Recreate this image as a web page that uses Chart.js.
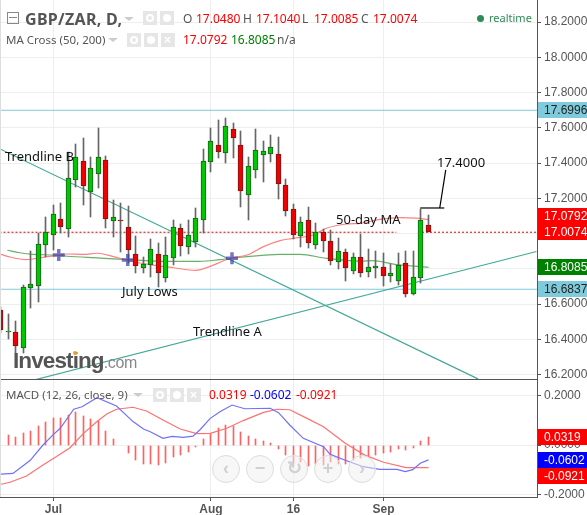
<!DOCTYPE html>
<html>
<head>
<meta charset="utf-8">
<title>GBP/ZAR</title>
<script src="https://cdn.jsdelivr.net/npm/chart.js@4"></script>
<style>
html, body { margin: 0; padding: 0; background: #fff; }
#wrap { position: relative; width: 587px; height: 515px; overflow: hidden; font-family: "Noto Sans", sans-serif; color: #555; }
canvas { position: absolute; left: 0; }
#main { top: 0; }
#macd { top: 380px; }
.t { position: absolute; white-space: nowrap; font-size: 12px; line-height: 16px; }
.r { color: #f00; } .g { color: #008000; } .b { color: #00f; }
.box { position: absolute; width: 14px; height: 14px; background: #e6e6e6; }
.box i { position: absolute; left: 3px; top: 3px; width: 8px; height: 8px; border-radius: 50%; background: #fff; }
.box.eye i { background: none; border: 2px solid #fff; width: 4px; height: 4px; }
.caret { position: absolute; width: 0; height: 0; border-left: 5px solid transparent; border-right: 5px solid transparent; border-top: 4px solid #ccc; }
.btn { position: absolute; top: 455px; width: 26px; height: 26px; border: 1.5px solid #dcdcdc; border-radius: 50%; background: rgba(240,240,240,.5);
  text-align: center; line-height: 24px; font-size: 18px; font-weight: bold; color: #d0d0d0; font-family: "Liberation Sans", sans-serif; }
</style>
</head>
<body>
<div id="wrap">
<canvas id="main" width="587" height="380"></canvas>
<canvas id="macd" width="587" height="135"></canvas>

<div style="position:absolute;left:0;top:379px;width:537px;height:1px;background:#555"></div>
<div style="position:absolute;left:0;top:0;width:1px;height:497px;background:#ddd"></div>
<div style="position:absolute;left:541px;top:498px;width:46px;height:17px;background:#fff"></div>

<div style="position:absolute;left:7px;top:12px;width:10px;height:10px;border:1px solid #888"><div style="margin:4px 1px;height:1px;background:#888"></div></div>
<div class="t" style="left:25px;top:8px;font-size:16px;line-height:22px;font-weight:bold;letter-spacing:.3px">GBP/ZAR, D,</div>
<div class="caret" style="left:124px;top:17px"></div>
<div class="box eye" style="left:143px;top:11px"><i></i></div>
<div class="box" style="left:160px;top:11px"><i></i></div>
<div class="t" style="left:183px;top:11px">O</div><div class="t r" style="left:196px;top:11px">17.0480</div>
<div class="t" style="left:243px;top:11px">H</div><div class="t r" style="left:256px;top:11px">17.1040</div>
<div class="t" style="left:302px;top:11px">L</div><div class="t r" style="left:314px;top:11px">17.0085</div>
<div class="t" style="left:361px;top:11px">C</div><div class="t r" style="left:373px;top:11px">17.0074</div>
<div style="position:absolute;left:477px;top:15px;width:7px;height:7px;border-radius:50%;background:#2e8b57"></div>
<div class="t" style="left:489px;top:10px;color:#2e8b57;font-size:11px">realtime</div>

<div class="t" style="left:6px;top:32px;font-size:11.5px">MA Cross (50, 200)</div>
<div class="caret" style="left:108px;top:38px"></div>
<div class="box eye" style="left:127px;top:33px"><i></i></div>
<div class="box" style="left:144px;top:33px"><i></i></div>
<div class="box" style="left:161px;top:33px"><i style="background:none;color:#fff;font:bold 12px/8px 'Liberation Sans'">×</i></div>
<div class="t r" style="left:183px;top:32px">17.0792</div>
<div class="t g" style="left:231px;top:32px">16.8085</div>
<div class="t" style="left:277px;top:32px">n/a</div>

<div class="t" style="left:6px;top:387px;font-size:11.5px">MACD (12, 26, close, 9)</div>
<div class="caret" style="left:133px;top:393px"></div>
<div class="box eye" style="left:153px;top:388px"><i></i></div>
<div class="box" style="left:170px;top:388px"><i></i></div>
<div class="box" style="left:187px;top:388px"><i style="background:none;color:#fff;font:bold 12px/8px 'Liberation Sans'">×</i></div>
<div class="t r" style="left:209px;top:387px">0.0319</div>
<div class="t b" style="left:250px;top:387px">-0.0602</div>
<div class="t r" style="left:296px;top:387px">-0.0921</div>

<div class="btn" style="left:212px">‹</div>
<div class="btn" style="left:246px">−</div>
<div class="btn" style="left:280px">↻</div>
<div class="btn" style="left:314px">+</div>
<div class="btn" style="left:348px">›</div>

<div class="t" style="left:13px;top:347px;font:bold 22.5px/28px 'Liberation Sans';letter-spacing:-.9px;color:#555">Investing<span style="font-weight:normal;font-size:16px;color:#888;letter-spacing:-.3px">.com</span></div>
<div style="position:absolute;left:73px;top:351px;width:4px;height:4px;background:#f0a030;border-radius:2px"></div>
</div>

<script>
// daily candles
const opens  = [16.566,16.439,16.439,16.348,16.689,16.700,16.933,16.990,17.081,17.024,17.302,17.410,17.234,17.336,17.416,17.069,17.077,17.035,16.882,16.803,16.820,16.886,16.746,16.859,17.030,16.922,16.954,17.075,17.404,17.501,17.455,17.592,17.501,17.217,17.359,17.444,17.450,17.450,17.274,17.137,16.984,17.075,16.933,17.007,16.956,16.837,16.897,16.786,16.865,16.780,16.803,16.812,16.757,16.729,16.831,16.659,16.746,17.048];
const highs  = [16.585,16.543,16.504,16.708,16.901,17.001,17.096,17.162,17.171,17.465,17.508,17.540,17.436,17.597,17.440,17.190,17.171,17.156,16.986,16.865,16.967,16.944,16.978,17.077,17.054,17.077,17.147,17.480,17.601,17.644,17.654,17.626,17.582,17.436,17.593,17.525,17.559,17.548,17.310,17.168,17.092,17.149,17.058,17.026,17.020,16.975,16.913,16.892,16.998,16.911,16.901,16.888,16.827,16.892,16.901,16.901,17.138,17.104];
const lows   = [16.434,16.400,16.320,16.320,16.579,16.613,16.865,16.907,17.005,16.982,17.262,17.160,17.096,17.260,17.033,16.982,16.897,16.831,16.774,16.774,16.751,16.695,16.727,16.821,16.873,16.886,16.926,17.005,17.351,17.431,17.402,17.431,17.153,17.077,17.317,17.294,17.408,17.198,17.101,16.971,16.926,16.916,16.910,16.897,16.821,16.797,16.733,16.771,16.752,16.756,16.746,16.704,16.727,16.708,16.642,16.651,16.718,17.0074];
const closes = [16.453,16.447,16.362,16.695,16.712,16.939,17.009,17.109,17.039,17.313,17.436,17.268,17.370,17.433,17.081,17.092,17.069,16.905,16.814,16.825,16.910,16.778,16.880,17.035,16.927,16.990,17.086,17.410,17.523,17.461,17.609,17.540,17.240,17.381,17.472,17.467,17.489,17.279,17.126,16.990,17.064,16.944,17.009,16.956,16.842,16.899,16.803,16.865,16.774,16.809,16.814,16.757,16.774,16.820,16.659,16.756,17.075,17.0074];

// moving averages, [day index, price]
const ma50Days  = [0,1,3.4,5.6,7,8.8,11,12.8,15,17.6,20.3,23,25.9,28.3,30.5,32.8,35,37.2,39,41.6,43.4,46.1,47.9,50.5,53.2,55.4,57];
const ma50      = [16.882,16.869,16.852,16.865,16.873,16.884,16.882,16.888,16.869,16.840,16.821,16.806,16.791,16.821,16.859,16.878,16.926,16.960,16.973,16.992,17.030,17.054,17.058,17.080,17.090,17.087,17.0792];
const ma200Days = [0.85,2.5,4.3,7,8.8,13.2,17.6,22,26.5,29.2,32.8,37.2,39.9,43.4,47.9,49.6,52.5,57];
const ma200     = [16.905,16.891,16.882,16.878,16.871,16.861,16.850,16.842,16.842,16.852,16.869,16.882,16.882,16.859,16.844,16.846,16.825,16.8085];
const crossDays   = [7.7,16.9,30.8];
const crossPrices = [16.878,16.850,16.860];

// drawn lines
const hLine1 = 17.6996;
const hLine2 = 16.6837;
const lastClose = 17.0074;
const lastCloseDays = [-0.2,52.7,null,55.6,71.6];
const trendADays = [3.87,71.4],  trendA = [16.163,16.898];
const trendBDays = [-0.13,63.6], trendB = [17.480,16.175];
const callDays1 = [55.9,59.1], callPrices1 = [17.145,17.145];
const callDays2 = [58.5,59.3], callPrices2 = [17.145,17.361];

// macd pane
const histogram = [null,.041,.032,.049,.057,.077,.093,.109,.109,.122,.134,.118,.105,.097,.057,.024,null,-.031,-.059,-.076,-.076,-.080,-.073,-.047,-.041,-.028,-.007,.024,.045,.068,.081,.077,.053,.036,.024,.016,.008,-.016,-.041,-.074,-.070,-.084,-.078,-.081,-.070,-.078,-.078,-.061,-.054,-.046,-.041,-.032,-.027,-.016,-.019,-.011,.016,.0319];
const macdDays = [0,1.6,3.9,5.6,7,7.9,9.7,10.8,12.8,15.4,17.6,19,19.9,21.6,22.8,24.3,25.6,26.5,27.9,29.2,30.8,32.5,35.9,37,38.5,40.3,43,43.9,45.9,48.3,50.5,52.8,53.9,54.9,55.9,57];
const macdLine = [-.118,-.115,-.062,0,.043,.068,.145,.155,.192,.158,.095,.065,.054,.027,.035,.031,.036,.061,.108,.135,.162,.147,.149,.131,.081,.027,-.007,-.038,-.062,-.088,-.099,-.099,-.108,-.100,-.074,-.0602];
const signalDays = [0,1.2,3.4,5.6,7.4,9.2,11,12.8,14.1,15.4,17.6,19.4,21.6,23.9,26.1,27.9,30.1,32.3,35,36.8,38.5,40.8,43,45.9,48.5,51,54,57];
const signalLine = [-.159,-.151,-.126,-.081,-.047,-.011,.047,.095,.126,.145,.153,.138,.101,.065,.046,.047,.068,.099,.132,.145,.143,.108,.074,.007,-.041,-.070,-.092,-.0921];

// axes
const priceTicks = [16.2,16.4,16.6,16.8,17.0,17.2,17.4,17.6,17.8,18.0,18.2];
const macdTicks  = [-0.2,0,0.2];
const dateDays   = [7,28,39,51];
const dateLabels = ['Jul','Aug','16','Sep'];

// chart annotations: text, day index, price
const noteTexts  = ['Trendline B','July Lows','Trendline A','50-day MA','17.4000'];
const noteDays   = [0.53,16.13,25.6,44.67,58.13];
const notePrices = [17.434,16.668,16.441,17.077,17.400];

// value tags on the right axis
const mainTags = [[17.6996,'#7fcbdc','#222'],[17.0792,'#ff0000','#fff'],[17.0074,'#ff0000','#fff'],[16.8085,'#008000','#fff'],[16.6837,'#7fcbdc','#222']];
const macdTags = [[0.0319,'#ff0000','#fff'],[-0.0602,'#0000ff','#fff'],[-0.0921,'#ff0000','#fff']];

const days = opens.map((o, i) => i);
const pts = (xs, ys) => xs.map((x, i) => ({x: x, y: ys[i]}));
const flat = (xs, v) => xs.map(x => ({x: x, y: x === null ? null : v}));

function line(data, color, width, order, extra) {
	return Object.assign({type: 'line', data: data, borderColor: color, borderWidth: width, pointRadius: 0, order: order}, extra);
}

function xAxis(showLabels) {
	return {
		type: 'linear', offset: false, min: -0.1333, max: 71.467,
		grid: {offset: false, color: '#eeeeee', drawTicks: showLabels, tickLength: 4, tickColor: '#555'},
		border: {color: '#555'},
		afterBuildTicks: s => { s.ticks = dateDays.map(v => ({value: v})); },
		afterFit: s => { s.height = showLabels ? 18 : 0; s.paddingLeft = 0; s.paddingRight = 0; },
		ticks: {
			display: showLabels, autoSkip: false, maxRotation: 0, padding: 1, color: '#555',
			font: {family: 'Liberation Sans', size: 12, weight: 'bold'},
			callback: v => dateLabels[dateDays.indexOf(v)]
		}
	};
}

function yAxis(min, max, tickValues) {
	return {
		position: 'right', min: min, max: max,
		grid: {color: '#eeeeee', tickColor: '#555', tickLength: 4},
		border: {color: '#555'},
		afterBuildTicks: s => { s.ticks = tickValues.map(v => ({value: v})); },
		afterFit: s => { s.width = 50; s.paddingTop = 0; s.paddingBottom = 0; },
		ticks: {
			autoSkip: false, padding: 3, color: '#555',
			font: {family: 'Liberation Sans', size: 12},
			callback: v => v.toFixed(4)
		}
	};
}

// line the bars up on whole pixels so the 1px wicks stay sharp
const snapPlugin = {
	id: 'snap',
	afterDatasetsUpdate(chart) {
		chart.getSortedVisibleDatasetMetas().forEach(meta => {
			if (meta.type !== 'bar') return;
			meta.data.forEach(el => {
				el.x = Math.round(el.x - 0.5) + 0.5;
				el.y = Math.round(el.y);
				el.base = Math.round(el.base);
				el.height = el.base - el.y;
			});
		});
	}
};

// tags that would overlap get pushed apart: up (dir -1) or down (dir 1)
const tagPlugin = (tags, dir) => ({
	id: 'tags',
	afterDraw(chart) {
		const c = chart.ctx, a = chart.chartArea, y = chart.scales.y;
		const list = dir > 0 ? tags : tags.slice().reverse();
		let prev = null;
		c.save();
		c.font = '12px "Liberation Sans"';
		c.textBaseline = 'middle';
		list.forEach(tag => {
			let py = Math.round(y.getPixelForValue(tag[0]));
			if (prev !== null && dir > 0 && py < prev + 16) py = prev + 16;
			if (prev !== null && dir < 0 && py > prev - 16) py = prev - 16;
			prev = py;
			c.fillStyle = tag[1];
			c.fillRect(a.right + 1, py - 8, 50, 16);
			c.fillStyle = tag[2];
			c.fillText(tag[0].toFixed(4), a.right + 7, py + 0.5);
		});
		c.restore();
	}
});

const notePlugin = {
	id: 'notes',
	afterDatasetsDraw(chart) {
		const c = chart.ctx, x = chart.scales.x, y = chart.scales.y;
		c.save();
		c.font = '13px "Noto Sans"';
		c.fillStyle = '#111';
		c.textBaseline = 'middle';
		noteTexts.forEach((t, i) => c.fillText(t, x.getPixelForValue(noteDays[i]), y.getPixelForValue(notePrices[i])));
		c.restore();
	}
};

new Chart(document.querySelector('#main').getContext('2d'), {
	type: 'bar',
	data: {
		datasets: [
			// candle bodies then wicks
			{
				data: days.map(i => ({x: i, y: [opens[i], closes[i]]})),
				barThickness: 5, borderWidth: 1, borderSkipped: false, grouped: false, order: 1,
				backgroundColor: days.map(i => closes[i] >= opens[i] && opens[i] !== closes[i] ? '#00c800' : '#f00000'),
				borderColor: days.map(i => closes[i] >= opens[i] && opens[i] !== closes[i] ? '#1c5c1c' : '#7a1616')
			},
			{
				data: days.map(i => ({x: i, y: [lows[i], highs[i]]})),
				barThickness: 1, grouped: false, order: 2, backgroundColor: '#666666'
			},
			line(pts(ma50Days, ma50), '#ff8080', 1.2, 4, {cubicInterpolationMode: 'monotone'}),
			line(pts(ma200Days, ma200), '#68b068', 1.2, 4, {cubicInterpolationMode: 'monotone'}),
			line(pts(trendADays, trendA), '#45a898', 1.2, 5),
			line(pts(trendBDays, trendB), '#45a898', 1.2, 5),
			line(flat([-0.2, 71.6], hLine1), '#7fcbdc', 1, 6),
			line(flat([-0.2, 71.6], hLine2), '#7fcbdc', 1, 6),
			line(flat(lastCloseDays, lastClose), '#e00000', 1, 3, {borderDash: [2, 2]}),
			line(pts(callDays1, callPrices1), '#000', 1.2, 0),
			line(pts(callDays2, callPrices2), '#000', 1.2, 0),
			line(pts(crossDays, crossPrices), 'rgba(60,60,170,.7)', 4, 0, {showLine: false, pointStyle: 'cross', pointRadius: 6, pointBorderColor: 'rgba(60,60,170,.7)', pointBorderWidth: 3.5})
		]
	},
	options: {
		responsive: false, animation: false,
		layout: {padding: 0, autoPadding: false},
		plugins: {legend: {display: false}, tooltip: {enabled: false}},
		scales: {x: xAxis(false), y: yAxis(16.1688, 18.3254, priceTicks)}
	},
	plugins: [snapPlugin, tagPlugin(mainTags, -1), notePlugin]
});

new Chart(document.querySelector('#macd').getContext('2d'), {
	type: 'bar',
	data: {
		datasets: [
			{data: days.map(i => ({x: i, y: histogram[i]})), barThickness: 1, backgroundColor: '#ff6060', grouped: false, order: 3},
			line(pts(macdDays, macdLine), '#7070ff', 1.2, 1),
			line(pts(signalDays, signalLine), '#ff7070', 1.2, 2)
		]
	},
	options: {
		responsive: false, animation: false,
		layout: {padding: 0, autoPadding: false},
		plugins: {legend: {display: false}, tooltip: {enabled: false}},
		scales: {x: xAxis(true), y: yAxis(-0.2108, 0.2635, macdTicks)}
	},
	plugins: [snapPlugin, tagPlugin(macdTags, 1)]
});
</script>
</body>
</html>
